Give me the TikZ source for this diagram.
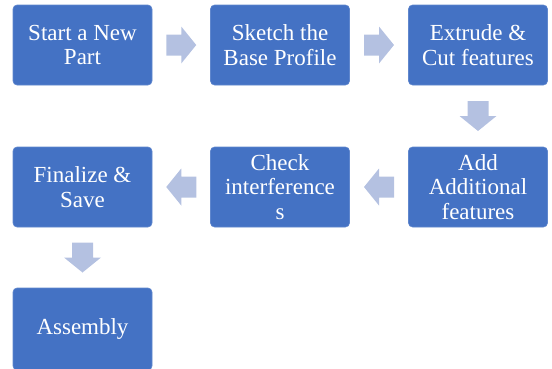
\documentclass[tikz,border=0pt]{standalone}
\usepackage{fontspec}
\setmainfont{Liberation Serif}
\usetikzlibrary{calc}
\definecolor{boxblue}{HTML}{4472C4}
\definecolor{arrowblue}{HTML}{B4C1E1}
\tikzset{
  stepbox/.style={fill=boxblue, draw=boxblue!85!white, line width=0.6pt, rounded corners=4pt,
    minimum width=139pt, minimum height=80pt, text=white, align=center,
    font=\fontsize{23}{24.5}\selectfont, inner sep=0pt},
  blockarrow/.pic={\fill[arrowblue] (-15,-10.5) -- (0,-10.5) -- (0,-18.5) -- (15,0) -- (0,18.5) -- (0,10.5) -- (-15,10.5) -- cycle;}
}
\begin{document}
\begin{tikzpicture}[x=1pt,y=-1pt]
\useasboundingbox (0,0) rectangle (552,368);
\node[stepbox] (a) at (82.5,45) {Start a New\\Part};
\node[stepbox] (b) at (280,45) {Sketch the\\Base Profile};
\node[stepbox] (c) at (478,45) {Extrude \&\\Cut features};
\node[stepbox] (d) at (478,187) {Add\\Additional\\features};
\node[stepbox] (e) at (280,187) {Check\\interference\\s};
\node[stepbox] (f) at (82.5,187) {Finalize \&\\Save};
\node[stepbox, minimum height=82pt] (g) at (82.5,329) {Assembly};
\pic at ($(a.east)!0.5!(b.west)$) {blockarrow};
\pic at ($(b.east)!0.5!(c.west)$) {blockarrow};
\pic[rotate=-90] at ($(c.south)!0.5!(d.north)$) {blockarrow};
\pic[rotate=180] at ($(d.west)!0.5!(e.east)$) {blockarrow};
\pic[rotate=180] at ($(e.west)!0.5!(f.east)$) {blockarrow};
\pic[rotate=-90] at ($(f.south)!0.5!(g.north)$) {blockarrow};
\end{tikzpicture}
\end{document}
